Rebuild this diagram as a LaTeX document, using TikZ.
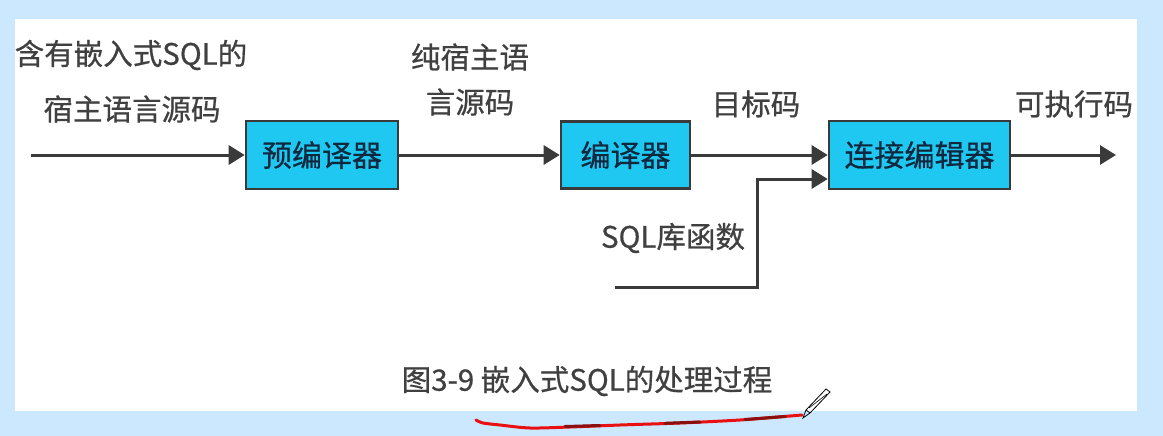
\documentclass[tikz,border=0pt]{standalone}
\usepackage{fontspec}
\setmainfont{Noto Sans CJK SC}[FakeBold=0.6]
\usetikzlibrary{arrows.meta}
\definecolor{bgblue}{HTML}{CCE8FF}
\definecolor{boxfill}{HTML}{1EC8F0}
\definecolor{boxline}{HTML}{3A3A3A}
\definecolor{txtgray}{HTML}{404040}
\definecolor{boxtxt}{HTML}{10283F}
\definecolor{penred}{HTML}{E81010}
\definecolor{darkred}{HTML}{8A1010}
\begin{document}
\begin{tikzpicture}[x=1pt,y=-1pt,
  procbox/.style={draw=boxline,line width=2.6pt,fill=boxfill,text=boxtxt,
    inner sep=0pt,font=\fontsize{30}{32}\selectfont},
  conn/.style={draw=boxline,line width=3pt,-{Triangle[length=16pt,width=19pt]}},
  lbl/.style={text=txtgray,inner sep=0pt,font=\fontsize{29.5}{31}\selectfont}]
\fill[bgblue] (0,0) rectangle (1163,436);
\fill[white] (15,19) rectangle (1137,411);
\useasboundingbox (0,0) rectangle (1163,436);
% boxes
\node[procbox,minimum width=152pt,minimum height=68pt] (b1) at (322,155) {预编译器};
\node[procbox,minimum width=129pt,minimum height=67pt] (b2) at (625.5,155) {编译器};
\node[procbox,minimum width=181pt,minimum height=68pt] (b3) at (919.5,155) {连接编辑器};
% coordinates
\coordinate (in) at (31,155);
\coordinate (out) at (1116,155);
\coordinate (lib) at (615,287);
\coordinate (libc) at (757,287);
% connectors
\draw[conn] (in) -- (b1.west);
\draw[conn] (b1.east) -- (b2.west);
\draw[conn] (b2.east) -- (b3.west);
\draw[conn] (b3.east) -- (out);
\draw[conn] (lib) -- (libc) |- ([yshift=-24pt]b3.west);
% labels
\node[lbl] (l1a) at (131,55) {含有嵌入式SQL的};
\node[lbl] (l1b) at (132,109) {宿主语言源码};
\node[lbl] (l2a) at (470,57) {纯宿主语};
\node[lbl] (l2b) at (470,102) {言源码};
\node[lbl] (l3) at (756,104) {目标码};
\node[lbl] (l4) at (1074,104) {可执行码};
\node[lbl] (l5) at (673,238) {SQL库函数};
\node[lbl] (cap) at (587,381) {图3-9 嵌入式SQL的处理过程};
% red hand-drawn underline
\draw[penred,line width=3pt,line cap=round]
  plot[smooth] coordinates {(476,420) (483,423) (500,425) (530,428) (570,427) (620,425) (680,423) (740,420) (790,416) (802,415)};
\draw[darkred,line width=3pt,line cap=round]
  (565,426.5) -- (600,425.5) (665,423.3) -- (700,422) (745,419.5) -- (785,416.5);
% pen icon
\draw[black,line width=0.8pt] (803,418) -- (806,410) -- (826,389) -- (830,392) -- (810,413) -- cycle;
\draw[black,line width=0.8pt] (806,410) -- (810,413);
\draw[black,line width=0.6pt] (809,408) -- (827,394);
\end{tikzpicture}
\end{document}
